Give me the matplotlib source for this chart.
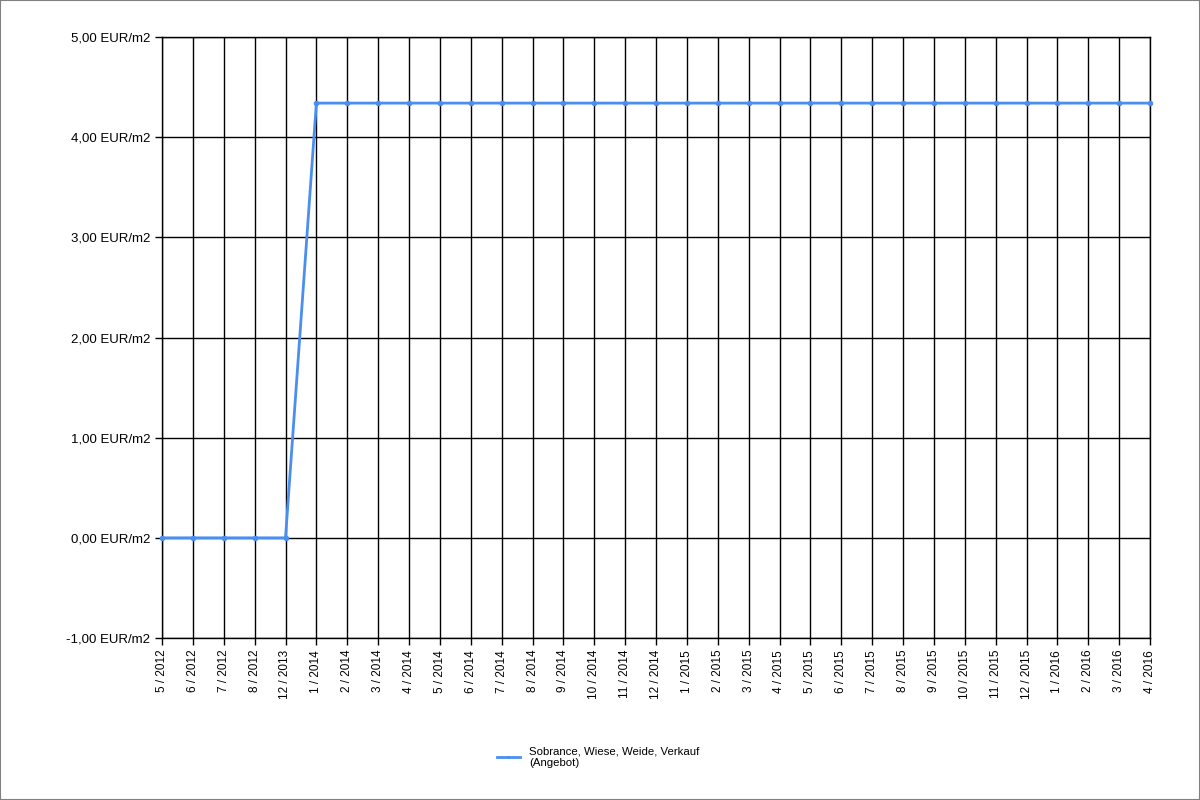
import matplotlib
matplotlib.use("Agg")
import matplotlib.pyplot as plt
from matplotlib.patches import Rectangle

categories = ["5 / 2012", "6 / 2012", "7 / 2012", "8 / 2012", "12 / 2013",
              "1 / 2014", "2 / 2014", "3 / 2014", "4 / 2014", "5 / 2014", "6 / 2014",
              "7 / 2014", "8 / 2014", "9 / 2014", "10 / 2014", "11 / 2014", "12 / 2014",
              "1 / 2015", "2 / 2015", "3 / 2015", "4 / 2015", "5 / 2015", "6 / 2015",
              "7 / 2015", "8 / 2015", "9 / 2015", "10 / 2015", "11 / 2015", "12 / 2015",
              "1 / 2016", "2 / 2016", "3 / 2016", "4 / 2016"]
values = [0, 0, 0, 0, 0] + [4.34] * 28
y_ticks = [-1, 0, 1, 2, 3, 4, 5]
y_labels = ["-1,00 EUR/m2", "0,00 EUR/m2", "1,00 EUR/m2", "2,00 EUR/m2",
            "3,00 EUR/m2", "4,00 EUR/m2", "5,00 EUR/m2"]
series_name = "Sobrance, Wiese, Weide, Verkauf\n(Angebot)"

plt.rcParams['font.family'] = ['Liberation Sans', 'DejaVu Sans']

fig = plt.figure(figsize=(12, 8), dpi=100)
fig.patches.append(Rectangle((0, 0), 1, 1, transform=fig.transFigure, fill=False,
                             edgecolor="#808080", linewidth=1.5))
ax = fig.add_axes([162/1200, 1 - 638/800, (1150 - 162)/1200, (638 - 37)/800])

x = list(range(len(categories)))
line, = ax.plot(x, values, color="#4a8ef0", linewidth=2, marker="o", markersize=3,
                label=series_name, zorder=3, clip_on=False)

ax.set_xlim(0, len(categories) - 1)
ax.set_ylim(-1, 5)
ax.set_xticks(x)
ax.set_xticklabels(categories, rotation=90, fontsize=8.5)
ax.set_yticks(y_ticks)
ax.set_yticklabels(y_labels, fontsize=9.5)
ax.grid(True, color="black", linewidth=1)
ax.tick_params(axis="both", length=5, width=1, color="black")
for s in ax.spines.values():
    s.set_color("black")
    s.set_linewidth(1)

leg = fig.legend(handles=[line], labels=[series_name], loc="center",
                 bbox_to_anchor=(598/1200, 1 - 757/800), frameon=False, fontsize=8.2,
                 handlelength=2, markerscale=0.4)

fig.savefig("out.png", dpi=100)
